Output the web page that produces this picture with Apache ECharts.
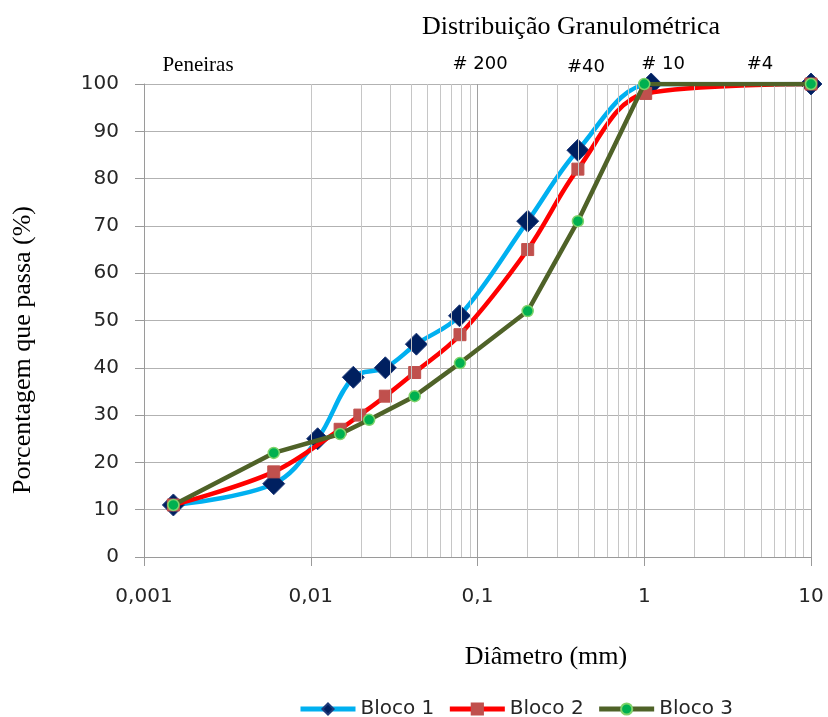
<!DOCTYPE html>
<html>
<head>
<meta charset="utf-8">
<script src="https://cdn.jsdelivr.net/npm/echarts@6/dist/echarts.min.js"></script>
<style>html,body{margin:0;padding:0;background:#fff}#c{width:828px;height:717px}</style>
</head>
<body>
<div id="c"></div>
<script>
// ---- data ----
const bloco1X = [0.0015, 0.006, 0.011, 0.018, 0.028, 0.043, 0.078, 0.2, 0.4, 1.1, 10];
const bloco1Y = [11, 15.5, 25, 38, 40, 45, 51, 71, 86, 100, 100];
const bloco2X = [0.0015, 0.006, 0.015, 0.0197, 0.028, 0.042, 0.0785, 0.2, 0.4, 1.02, 10];
const bloco2Y = [11, 18, 27, 30, 34, 39, 47, 65, 82, 98, 100];
const bloco3X = [0.0015, 0.006, 0.015, 0.0224, 0.042, 0.0785, 0.2, 0.4, 1.0, 10];
const bloco3Y = [11, 22, 26, 29, 34, 41, 52, 71, 100, 100];
const seriesNames = ['Bloco 1', 'Bloco 2', 'Bloco 3'];
const xTickLabels = {'0.001': '0,001', '0.01': '0,01', '0.1': '0,1', '1': '1', '10': '10'};
const sieveLabels = ['# 200', '#40', '# 10', '#4'];
const titleText = 'Distribuição Granulométrica';
const xTitle = 'Diâmetro (mm)';
const yTitle = 'Porcentagem que passa (%)';
const sieveHeader = 'Peneiras';

// minor log grid positions (2..9 of each decade)
const minorGrid = [];
[0.001, 0.01, 0.1, 1].forEach(d => { for (let k = 2; k <= 9; k++) minorGrid.push(+(d * k).toPrecision(3)); });

const pairs = (xs, ys) => xs.map((x, i) => [x, ys[i]]);
const sans = 'DejaVu Sans';

const chart = echarts.init(document.getElementById('c'), null, {renderer: 'canvas'});
chart.setOption({
  backgroundColor: '#ffffff',
  animation: false,
  grid: {left: 144, right: 17, top: 84, bottom: 160, containLabel: false},
  xAxis: {
    type: 'log', logBase: 10, min: 0.001, max: 10,
    axisLine: {show: true, onZero: false, lineStyle: {color: '#9a9a9a', width: 1}},
    axisTick: {show: true, length: 9, lineStyle: {color: '#9a9a9a'}},
    splitLine: {show: true, lineStyle: {color: '#a0a0a0', width: 1}},
    axisLabel: {
      margin: 30, fontFamily: sans, fontSize: 20, color: '#262626',
      formatter: v => { const k = String(+Number(v).toPrecision(3)); return xTickLabels[k] !== undefined ? xTickLabels[k] : ''; }
    }
  },
  yAxis: {
    type: 'value', min: 0, max: 100, interval: 10,
    axisLine: {show: true, lineStyle: {color: '#9a9a9a', width: 1}},
    axisTick: {show: true, length: 9, lineStyle: {color: '#9a9a9a'}},
    splitLine: {show: true, lineStyle: {color: '#b2b2b2', width: 1}},
    axisLabel: {margin: 25, fontFamily: sans, fontSize: 20, color: '#262626'}
  },
  legend: {
    data: seriesNames,
    left: 293, top: 694,
    itemWidth: 55, itemHeight: 14, itemGap: 13,
    lineStyle: {width: 5},
    textStyle: {fontFamily: sans, fontSize: 20, color: '#262626'}
  },
  graphic: [
    {type: 'text', x: 571, y: 27, style: {text: titleText, font: '26px "Liberation Serif"', fill: '#000', align: 'center', verticalAlign: 'middle'}},
    {type: 'text', x: 198, y: 65, style: {text: sieveHeader, font: '21px "Liberation Serif"', fill: '#000', align: 'center', verticalAlign: 'middle'}},
    {type: 'text', x: 480, y: 64, style: {text: sieveLabels[0], font: '18px "DejaVu Sans"', fill: '#000', align: 'center', verticalAlign: 'middle'}},
    {type: 'text', x: 586, y: 67, style: {text: sieveLabels[1], font: '18px "DejaVu Sans"', fill: '#000', align: 'center', verticalAlign: 'middle'}},
    {type: 'text', x: 663, y: 64, style: {text: sieveLabels[2], font: '18px "DejaVu Sans"', fill: '#000', align: 'center', verticalAlign: 'middle'}},
    {type: 'text', x: 760, y: 64, style: {text: sieveLabels[3], font: '18px "DejaVu Sans"', fill: '#000', align: 'center', verticalAlign: 'middle'}},
    {type: 'text', x: 546, y: 657, style: {text: xTitle, font: '26px "Liberation Serif"', fill: '#000', align: 'center', verticalAlign: 'middle'}},
    {type: 'text', x: 23, y: 350, rotation: Math.PI / 2, style: {text: yTitle, font: '26px "Liberation Serif"', fill: '#000', align: 'center', verticalAlign: 'middle'}}
  ],
  series: [
    {
      name: '_grid', type: 'line', data: [], z: 1, silent: true,
      markLine: {
        silent: true, symbol: ['none', 'none'], label: {show: false}, animation: false,
        lineStyle: {color: '#c6c6c6', type: 'solid', width: 1},
        emphasis: {disabled: true},
        data: minorGrid.map(v => ({xAxis: v}))
      }
    },
    {
      name: seriesNames[0], type: 'line', data: pairs(bloco1X, bloco1Y), z: 3,
      smooth: 0.35,
      lineStyle: {color: '#00b0f0', width: 4.5},
      itemStyle: {color: '#002060', borderColor: '#1f3a7a', borderWidth: 1},
      symbol: 'diamond', symbolSize: 22, showAllSymbol: true
    },
    {
      name: seriesNames[1], type: 'line', data: pairs(bloco2X, bloco2Y), z: 4,
      smooth: 0.35,
      lineStyle: {color: '#ff0000', width: 4.5},
      itemStyle: {color: '#c0504d', borderColor: '#c0504d', borderWidth: 1},
      symbol: 'rect', symbolSize: 12, showAllSymbol: true
    },
    {
      name: seriesNames[2], type: 'line', data: pairs(bloco3X, bloco3Y), z: 5,
      smooth: false,
      lineStyle: {color: '#4f6228', width: 4.5},
      itemStyle: {color: '#00b050', borderColor: '#7fd36a', borderWidth: 1.5},
      symbol: 'circle', symbolSize: 11, showAllSymbol: true
    }
  ]
});
</script>
</body>
</html>
